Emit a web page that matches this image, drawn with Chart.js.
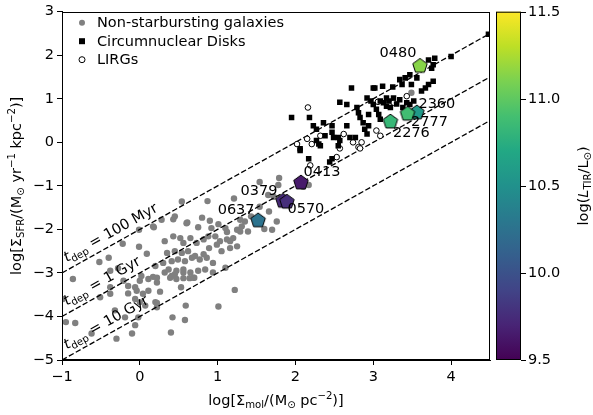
<!DOCTYPE html>
<html>
<head>
<meta charset="utf-8">
<script src="https://cdn.jsdelivr.net/npm/chart.js@4.4.0/dist/chart.umd.min.js"></script>
<style>html,body{margin:0;padding:0;background:#fff}</style>
</head>
<body>
<canvas id="c" width="593" height="415"></canvas>
<script>
// non-starbursting galaxies (grey dots)
const nonSbX = [-0.86,-0.99,-0.95,-0.83,-0.62,-0.52,-0.40,-0.22,-0.01,0.18,-0.01,0.09,-0.38,-0.28,-0.21,-0.15,-0.06,0.00,0.11,0.02,
  -0.51,-0.38,-0.38,-0.15,-0.04,0.04,0.11,-0.06,0.00,0.07,0.20,0.22,-0.32,-0.19,-0.06,-0.02,-0.30,-0.10,0.40,0.17,
  0.32,0.41,0.45,0.47,0.56,0.56,0.64,0.70,0.22,0.26,0.53,0.22,0.59,0.42,0.58,1.01,1.22,0.54,0.87,0.28,
  0.43,0.80,0.17,0.61,0.75,0.90,0.92,1.01,1.10,1.12,1.21,1.25,0.32,0.43,0.52,0.56,0.65,0.73,0.82,0.88,
  0.97,1.03,1.12,1.20,0.99,0.89,1.05,1.16,1.25,0.35,0.45,0.54,0.62,0.71,0.82,0.30,0.41,0.49,0.58,0.67,
  0.77,0.86,0.94,0.20,0.37,0.47,0.56,0.65,0.75,0.84,0.94,0.22,0.39,0.69,1.10,1.54,1.79,1.78,1.65,1.72,
  1.54,1.66,1.76,1.60,1.70,1.31,1.35,1.43,1.29,1.39,1.29,1.16,2.10,2.17,0.60,0.45,3.49];
const nonSbY = [-3.14,-3.60,-4.13,-4.15,-4.39,-2.75,-2.65,-2.33,-2.01,-1.95,-2.40,-2.56,-2.95,-2.89,-3.18,-3.30,-3.33,-3.18,-3.14,-3.07,
  -3.56,-3.48,-3.33,-3.47,-3.41,-3.48,-3.41,-3.60,-3.67,-3.75,-3.67,-3.79,-3.86,-4.02,-4.20,-4.02,-4.51,-4.39,-4.37,-3.09,
  -2.99,-3.07,-3.03,-3.14,-2.99,-3.12,-3.12,-3.11,-3.22,-3.43,-3.33,-3.69,-3.75,-4.02,-4.08,-3.77,-3.39,-1.36,-1.35,-1.78,
  -1.77,-1.73,-1.93,-1.84,-1.95,-1.80,-1.97,-1.88,-1.97,-2.06,-1.29,-2.01,-2.27,-2.16,-2.20,-2.31,-2.20,-2.31,-2.23,-2.16,
  -2.16,-2.27,-2.23,-2.20,-2.35,-2.43,-2.50,-2.43,-2.39,-2.54,-2.50,-2.54,-2.50,-2.61,-2.57,-2.77,-2.73,-2.69,-2.73,-2.65,
  -2.69,-2.65,-2.77,-2.84,-2.92,-2.95,-2.92,-2.99,-2.95,-2.92,-2.99,-3.11,-3.11,-3.11,-2.88,-0.91,-0.82,-0.98,-1.21,-1.25,
  -1.48,-1.59,-1.82,-1.99,-2.01,-1.93,-1.82,-1.70,-2.05,-2.05,-1.78,-2.27,-1.02,-0.98,-1.86,-1.70,1.14];

// circumnuclear disks (black squares)
const cndX = [4.48,4.00,3.79,3.71,3.77,3.75,3.77,3.71,3.67,3.62,3.47,3.41,3.34,3.37,3.25,3.12,3.02,2.72,2.92,2.57,
  2.66,2.79,2.81,2.83,2.94,2.87,2.94,2.89,3.00,3.09,3.17,3.26,3.34,3.43,3.47,3.13,3.17,3.04,3.07,3.09,
  1.95,2.18,2.23,2.36,2.27,2.47,2.47,2.49,2.55,2.66,2.70,2.77,2.38,2.27,2.32,2.55,2.06,2.17,2.44,2.92,
  2.57,2.30,2.06,2.47,3.00,3.49,3.56,3.20,3.30,3.22,3.38,2.97,3.52];
const cndY = [2.48,1.97,1.93,1.89,1.78,1.70,1.40,1.33,1.25,1.18,1.55,1.48,1.44,1.33,1.27,1.29,1.25,1.25,1.02,0.92,
  0.87,0.80,0.68,0.57,0.64,0.45,0.38,0.30,0.87,0.95,1.02,1.02,0.98,0.91,0.87,0.91,0.83,0.76,0.64,0.53,
  0.57,0.57,0.38,0.45,0.30,0.38,0.23,0.11,0.11,0.38,0.11,0.11,0.15,0.04,-0.08,-0.08,-0.15,-0.38,-0.45,0.19,
  0.04,-0.04,-0.19,-0.38,1.25,1.33,1.48,0.95,0.88,0.80,0.80,0.95,0.95];

// LIRGs (open circles)
const lirgX = [2.16,3.43,3.04,3.09,2.62,2.74,2.81,2.85,2.02,2.15,2.21,2.32,2.53,2.19,2.57,2.83,3.06,3.26];
const lirgY = [0.80,1.06,0.27,0.15,0.19,0.00,-0.11,0.00,-0.04,0.08,-0.04,0.15,-0.34,-0.53,-0.14,-0.14,0.93,0.91];

// named galaxies (pentagons coloured by log L_TIR)
const galNames = ['0480','2360','2777','2276','0413','0379','0570','0637'];
const galX = [3.60,3.56,3.44,3.22,2.07,1.84,1.89,1.52];
const galY = [1.77,0.70,0.67,0.49,-0.91,-1.33,-1.35,-1.78];
const galL = [11.14,10.58,10.88,10.83,9.64,9.74,9.76,10.26];

// depletion-time lines
const depX = [-1, 4.5];
const dep100Myr = [-3, 2.5];
const dep1Gyr = [-4, 1.5];
const dep10Gyr = [-5, 0.5];
const depNames = ['100 Myr', '1 Gyr', '10 Gyr'];

const xTicks = [-1, 0, 1, 2, 3, 4];
const yTicks = [-5, -4, -3, -2, -1, 0, 1, 2, 3];
const cbTicks = [9.5, 10.0, 10.5, 11.0, 11.5];
const cbMin = 9.5, cbMax = 11.5;

// label offsets in pixels (style only)
const galLabelOff = [[-22,-12],[20,-8],[22,9],[21,12],[21,-10],[-24,-9],[19,8],[-22,-10]];

const VIRIDIS = ['#440154','#482475','#414487','#355f8d','#2a788e','#21918c','#22a884','#44bf70','#7ad151','#bddf26','#fde725'];
function hex2rgb(h){ return [1,3,5].map(i => parseInt(h.substr(i,2),16)); }
function viridis(t){
  t = Math.max(0, Math.min(1, t));
  const f = t * 10, i = Math.min(9, Math.floor(f)), u = f - i;
  const a = hex2rgb(VIRIDIS[i]), b = hex2rgb(VIRIDIS[i+1]);
  return 'rgb(' + a.map((v,k) => Math.round(v + (b[k]-v)*u)).join(',') + ')';
}

function pentagon(color){
  const r = 7.6, s = 20, c = document.createElement('canvas');
  c.width = s; c.height = s;
  const g = c.getContext('2d');
  g.beginPath();
  for (let i = 0; i < 5; i++) {
    const a = -Math.PI/2 + i * 2*Math.PI/5;
    g.lineTo(s/2 + r*Math.cos(a), s/2 + 0.8 + r*Math.sin(a));
  }
  g.closePath();
  g.fillStyle = color; g.fill();
  g.lineWidth = 1; g.strokeStyle = '#000'; g.stroke();
  return c;
}

const pts = (xs, ys) => xs.map((x, i) => ({x: x, y: ys[i]}));
const FONT = 'DejaVu Sans';
const FS = 14.5;
const minus = v => (v < 0 ? '\u2212' : '') + Math.abs(v);

// rich text with sub/superscripts
function richWidth(ctx, segs, size){
  let w = 0;
  segs.forEach(s => {
    const fs = s.s ? size*0.7 : size;
    ctx.font = (s.it ? 'italic ' : '') + fs + 'px "' + FONT + '"';
    w += ctx.measureText(s.t).width;
  });
  return w;
}
function drawRich(ctx, segs, x, y, size, align){
  let cx = align === 'center' ? x - richWidth(ctx, segs, size)/2 : x;
  ctx.textAlign = 'left'; ctx.textBaseline = 'alphabetic';
  segs.forEach(s => {
    const fs = s.s ? size*0.7 : size;
    ctx.font = (s.it ? 'italic ' : '') + fs + 'px "' + FONT + '"';
    const dy = s.s === 'sub' ? size*0.22 : (s.s === 'sup' ? -size*0.42 : 0);
    ctx.fillText(s.t, cx, y + dy);
    cx += ctx.measureText(s.t).width;
  });
}

const xTitle = [{t:'log[\u03A3'},{t:'mol',s:'sub'},{t:'/(M'},{t:'\u2299',s:'sub'},{t:' pc'},{t:'\u22122',s:'sup'},{t:')]'}];
const yTitle = [{t:'log[\u03A3'},{t:'SFR',s:'sub'},{t:'/(M'},{t:'\u2299',s:'sub'},{t:' yr'},{t:'\u22121',s:'sup'},{t:' kpc'},{t:'\u22122',s:'sup'},{t:')]'}];
const cbTitle = [{t:'log('},{t:'L',it:true},{t:'TIR',s:'sub'},{t:'/L'},{t:'\u2299',s:'sub'},{t:')'}];

const extras = {
  id: 'extras',
  afterDraw(chart){
    const ctx = chart.ctx, a = chart.chartArea, xs = chart.scales.x, ys = chart.scales.y;
    ctx.save();
    ctx.fillStyle = '#000'; ctx.strokeStyle = '#000'; ctx.lineWidth = 1;
    // frame
    ctx.strokeRect(Math.round(a.left)+0.5, Math.round(a.top)+0.5, Math.round(a.right-a.left)-1, Math.round(a.bottom-a.top)-1);

    // depletion labels
    const ang = Math.atan2(ys.getPixelForValue(0) - ys.getPixelForValue(1), xs.getPixelForValue(1) - xs.getPixelForValue(0));
    [dep100Myr, dep1Gyr, dep10Gyr].forEach((d, i) => {
      const x0 = -0.94;
      const yv = d[0] + (x0 - depX[0]) * (d[1]-d[0]) / (depX[1]-depX[0]);
      ctx.save();
      ctx.translate(xs.getPixelForValue(x0), ys.getPixelForValue(yv) - 8);
      ctx.rotate(-ang);
      drawRich(ctx, [{t:'t',it:true},{t:'dep',s:'sub'},{t:' = ' + depNames[i]}], 0, 0, FS, 'left');
      ctx.restore();
    });

    // galaxy labels
    ctx.fillStyle = '#000';
    ctx.font = FS + 'px "' + FONT + '"';
    ctx.textAlign = 'center'; ctx.textBaseline = 'middle';
    galNames.forEach((n, i) => {
      ctx.fillText(n, xs.getPixelForValue(galX[i]) + galLabelOff[i][0], ys.getPixelForValue(galY[i]) + galLabelOff[i][1]);
    });

    // legend
    const lx = a.left + 20, tx = a.left + 35;
    chart.data.datasets.slice(0, 3).forEach((ds, i) => {
      const ly = a.top + 11 + i * 18.5;
      ctx.beginPath();
      if (ds.pointStyle === 'rect') {
        ctx.fillStyle = '#000'; ctx.fillRect(lx - 3, ly - 3, 6, 6);
      } else {
        ctx.arc(lx, ly, 3, 0, 2*Math.PI);
        ctx.fillStyle = ds.backgroundColor; ctx.fill();
        if (ds.borderWidth) { ctx.strokeStyle = ds.borderColor; ctx.stroke(); }
      }
      ctx.fillStyle = '#000';
      ctx.font = FS + 'px "' + FONT + '"'; ctx.textAlign = 'left'; ctx.textBaseline = 'middle';
      ctx.fillText(ds.label, tx, ly + 1);
    });

    // axis titles
    drawRich(ctx, xTitle, (a.left + a.right)/2, 405, FS, 'center');
    ctx.save();
    ctx.translate(21, (a.top + a.bottom)/2); ctx.rotate(-Math.PI/2);
    drawRich(ctx, yTitle, 0, 0, FS, 'center');
    ctx.restore();

    // colorbar
    const cl = a.right + 6, cw = 25, ct = a.top, cb = a.bottom;
    const grad = ctx.createLinearGradient(0, cb, 0, ct);
    VIRIDIS.forEach((c, i) => grad.addColorStop(i/10, c));
    ctx.fillStyle = grad; ctx.fillRect(cl, ct, cw, cb - ct);
    ctx.strokeStyle = '#000'; ctx.strokeRect(cl + 0.5, ct + 0.5, cw - 1, cb - ct - 1);
    ctx.fillStyle = '#000'; ctx.font = FS + 'px "' + FONT + '"';
    ctx.textAlign = 'left'; ctx.textBaseline = 'middle';
    cbTicks.forEach(v => {
      const py = Math.round(cb - (v - cbMin)/(cbMax - cbMin) * (cb - ct)) + 0.5;
      ctx.beginPath(); ctx.moveTo(cl + cw, py); ctx.lineTo(cl + cw + 5, py); ctx.stroke();
      ctx.fillText(v.toFixed(1), cl + cw + 7, py);
    });
    ctx.save();
    ctx.translate(588, (ct + cb)/2); ctx.rotate(-Math.PI/2);
    drawRich(ctx, cbTitle, 0, 0, FS, 'center');
    ctx.restore();
    ctx.restore();
  }
};

const depStyle = {type: 'line', showLine: true, borderColor: '#000', borderWidth: 1.3, borderDash: [5.5, 2.4], pointRadius: 0, fill: false, order: 4};

new Chart(document.getElementById('c'), {
  type: 'scatter',
  data: {
    datasets: [
      {label: 'Non-starbursting galaxies', data: pts(nonSbX, nonSbY), pointStyle: 'circle', pointRadius: 3.2,
        backgroundColor: '#808080', borderWidth: 0, order: 5},
      {label: 'Circumnuclear Disks', data: pts(cndX, cndY), pointStyle: 'rect', pointRadius: 3.9,
        backgroundColor: '#000', borderWidth: 0, order: 2},
      {label: 'LIRGs', data: pts(lirgX, lirgY), pointStyle: 'circle', pointRadius: 2.8,
        backgroundColor: '#fff', borderColor: '#000', borderWidth: 1, order: 3},
      {label: 'galaxies', data: pts(galX, galY), pointStyle: galL.map(v => pentagon(viridis((v - cbMin)/(cbMax - cbMin)))),
        order: 0},
      Object.assign({label: '100 Myr', data: pts(depX, dep100Myr)}, depStyle),
      Object.assign({label: '1 Gyr', data: pts(depX, dep1Gyr)}, depStyle),
      Object.assign({label: '10 Gyr', data: pts(depX, dep10Gyr)}, depStyle)
    ]
  },
  options: {
    responsive: false,
    animation: false,
    events: [],
    layout: {padding: {top: 8, right: 103, left: 0, bottom: 0}},
    plugins: {legend: {display: false}, tooltip: {enabled: false}},
    scales: {
      x: {
        type: 'linear', min: -1, max: 4.5,
        afterBuildTicks: s => { s.ticks = xTicks.map(v => ({value: v})); },
        afterFit: s => { s.height = 55; },
        ticks: {callback: minus, color: '#000', font: {family: FONT, size: FS}, padding: 4, maxRotation: 0},
        grid: {display: true, drawOnChartArea: false, tickLength: 5, color: '#000'},
        border: {display: true, color: '#000', width: 1}
      },
      y: {
        type: 'linear', min: -5, max: 3,
        afterBuildTicks: s => { s.ticks = yTicks.map(v => ({value: v})); },
        afterFit: s => { s.width = 62; },
        ticks: {callback: minus, color: '#000', font: {family: FONT, size: FS}, padding: 3},
        grid: {display: true, drawOnChartArea: false, tickLength: 5, color: '#000'},
        border: {display: true, color: '#000', width: 1}
      }
    }
  },
  plugins: [extras]
});
</script>
</body>
</html>
